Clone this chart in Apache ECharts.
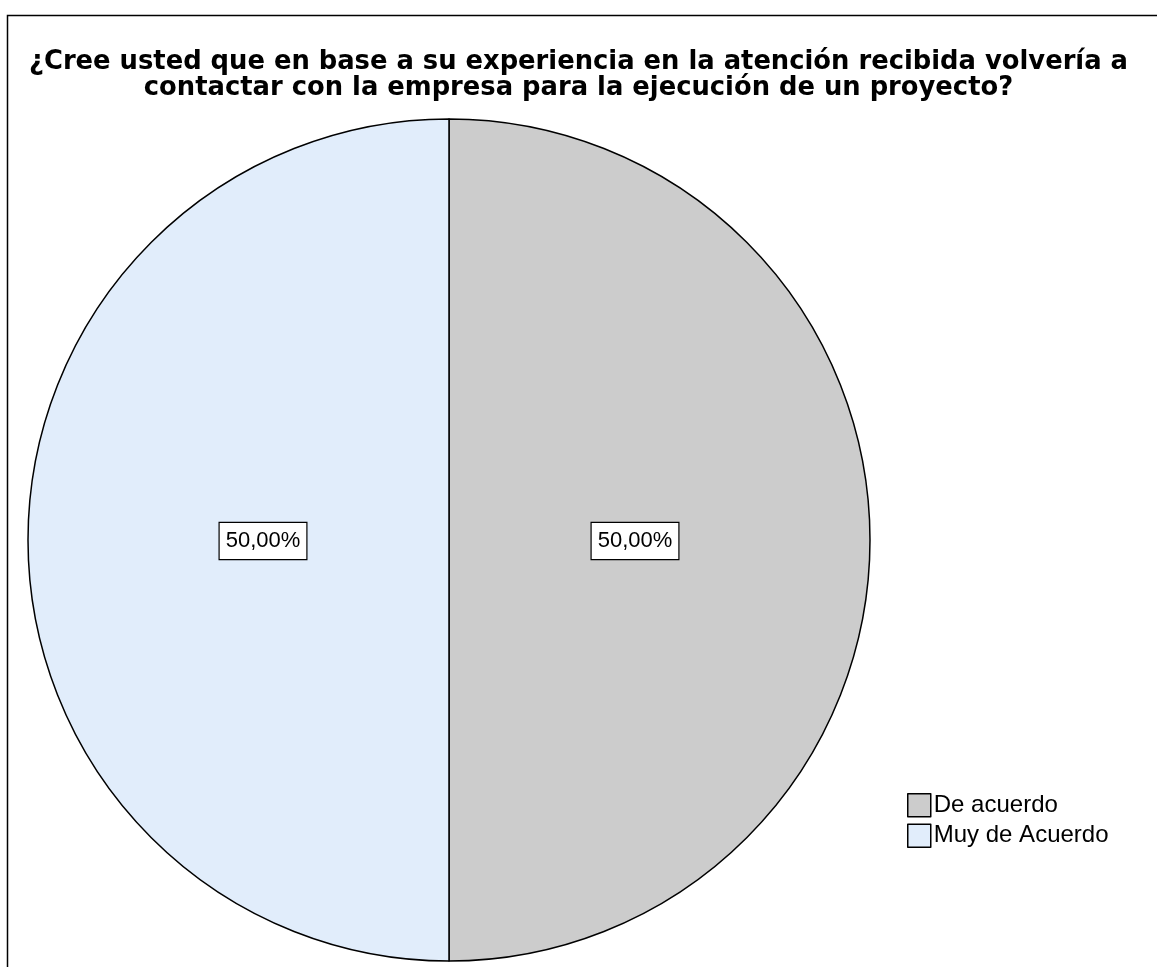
<!DOCTYPE html>
<html>
<head>
<meta charset="utf-8">
<script src="https://cdn.jsdelivr.net/npm/echarts@6/dist/echarts.min.js"></script>
<style>
html,body{margin:0;padding:0;background:#fff;}
#chart{width:1157px;height:967px;}
</style>
</head>
<body>
<div id="chart"></div>
<script>
const titleText = '¿Cree usted que en base a su experiencia en la atención recibida volvería a\ncontactar con la empresa para la ejecución de un proyecto?';
const categories = ['De acuerdo', 'Muy de Acuerdo'];
const values = [50, 50];
const labelTexts = ['50,00%', '50,00%'];
const colors = ['#cccccc', '#e1edfb'];

const chart = echarts.init(document.getElementById('chart'), null, {renderer: 'canvas'});
const pieData = categories.map((c, i) => ({name: c, value: values[i], itemStyle: {color: colors[i]}}));
const labelData = categories.map((c, i) => ({name: c, value: values[i], label: {formatter: labelTexts[i]}}));

chart.setOption({
  animation: false,
  backgroundColor: '#ffffff',
  title: {
    text: titleText,
    left: 'center',
    top: 49,
    padding: 0,
    textStyle: {fontFamily: 'DejaVu Sans, sans-serif', fontWeight: 'bold', fontSize: 25.8, lineHeight: 26, color: '#000'}
  },
  legend: {
    orient: 'vertical',
    left: 907,
    top: 793,
    padding: 0,
    itemWidth: 23,
    itemHeight: 23,
    itemGap: 6,
    icon: 'rect',
    selectedMode: false,
    data: categories,
    textStyle: {fontFamily: 'Liberation Sans, Arial, sans-serif', fontSize: 24, lineHeight: 23, color: '#000', padding: [0, 0, 0, -2]},
    itemStyle: {borderColor: '#000', borderWidth: 1.5}
  },
  graphic: [{
    type: 'rect',
    shape: {x: 7.5, y: 15.5, width: 1200, height: 1000},
    style: {fill: 'none', stroke: '#000', lineWidth: 1.5},
    silent: true
  }],
  series: [{
    type: 'pie',
    center: [449, 540],
    radius: [0, 421],
    startAngle: 90,
    clockwise: true,
    silent: true,
    label: {show: false},
    labelLine: {show: false},
    itemStyle: {borderColor: '#000', borderWidth: 1.5},
    data: pieData
  }, {
    type: 'pie',
    center: [449, 541],
    radius: [0, 366],
    startAngle: 90,
    clockwise: true,
    silent: true,
    legendHoverLink: false,
    itemStyle: {color: 'rgba(0,0,0,0)', borderWidth: 0},
    label: {
      show: true,
      position: 'inside',
      fontFamily: 'Liberation Sans, Arial, sans-serif',
      fontSize: 22,
      color: '#000',
      backgroundColor: '#fff',
      borderColor: '#000',
      borderWidth: 1.2,
      padding: [7, 6, 7, 6]
    },
    labelLine: {show: false},
    data: labelData
  }]
});
</script>
</body>
</html>
